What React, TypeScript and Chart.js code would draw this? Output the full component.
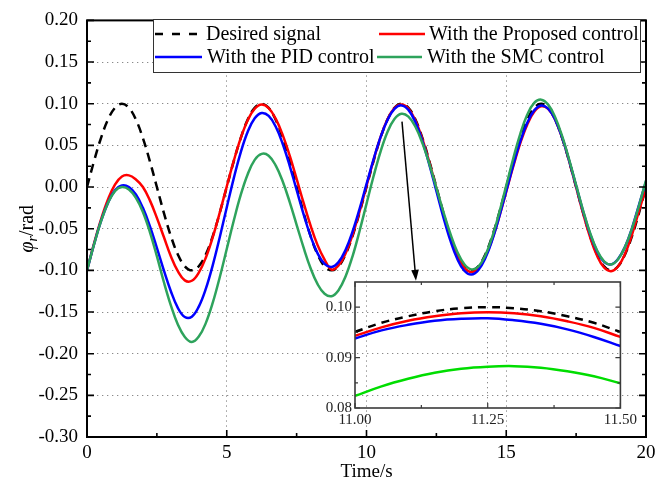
import React, { useEffect, useRef } from 'react';
import { Chart, registerables } from 'chart.js';

Chart.register(...registerables);

// ---------------- data ----------------
const TIME = [
  0, 0.25, 0.5, 0.75, 1, 1.25, 1.5, 1.75, 2, 2.25, 2.5, 2.75, 3, 3.25, 3.5, 3.75,
  4, 4.25, 4.5, 4.75, 5, 5.25, 5.5, 5.75, 6, 6.25, 6.5, 6.75, 7, 7.25, 7.5, 7.75,
  8, 8.25, 8.5, 8.75, 9, 9.25, 9.5, 9.75, 10, 10.25, 10.5, 10.75, 11, 11.25, 11.5, 11.75,
  12, 12.25, 12.5, 12.75, 13, 13.25, 13.5, 13.75, 14, 14.25, 14.5, 14.75, 15, 15.25, 15.5, 15.75,
  16, 16.25, 16.5, 16.75, 17, 17.25, 17.5, 17.75, 18, 18.25, 18.5, 18.75, 19, 19.25, 19.5, 19.75, 20,
];

const DESIRED = [
  0, 0.0309, 0.0588, 0.0809, 0.0951, 0.1, 0.0951, 0.0809, 0.0588, 0.0309,
  0, -0.0309, -0.0588, -0.0809, -0.0951, -0.1, -0.0951, -0.0809, -0.0588, -0.0309,
  0, 0.0309, 0.0588, 0.0809, 0.0951, 0.1, 0.0951, 0.0809, 0.0588, 0.0309,
  0, -0.0309, -0.0588, -0.0809, -0.0951, -0.1, -0.0951, -0.0809, -0.0588, -0.0309,
  0, 0.0309, 0.0588, 0.0809, 0.0951, 0.1, 0.0951, 0.0809, 0.0588, 0.0309,
  0, -0.0309, -0.0588, -0.0809, -0.0951, -0.1, -0.0951, -0.0809, -0.0588, -0.0309,
  0, 0.0309, 0.0588, 0.0809, 0.0951, 0.1, 0.0951, 0.0809, 0.0588, 0.0309,
  0, -0.0309, -0.0588, -0.0809, -0.0951, -0.1, -0.0951, -0.0809, -0.0588, -0.0309,
  0,
];

const PROPOSED = [
  -0.1, -0.068, -0.039, -0.015, 0.003, 0.0127, 0.014, 0.009, 0.0, -0.016,
  -0.037, -0.06, -0.083, -0.101, -0.112, -0.1125, -0.1028, -0.0848, -0.06, -0.0307,
  0.0007, 0.0313, 0.0587, 0.0802, 0.094, 0.099, 0.0946, 0.0821, 0.0626, 0.0379,
  0.0098, -0.0191, -0.0463, -0.0697, -0.087, -0.099, -0.0941, -0.0798, -0.0576, -0.0296,
  0.0013, 0.032, 0.0596, 0.0813, 0.0948, 0.099, 0.0941, 0.0798, 0.0576, 0.0296,
  -0.0015, -0.0326, -0.0606, -0.0828, -0.0971, -0.102, -0.0973, -0.0837, -0.0625, -0.0356,
  -0.0056, 0.0247, 0.0524, 0.0749, 0.0903, 0.0968, 0.0937, 0.0807, 0.0592, 0.0312,
  -0.0001, -0.0317, -0.0601, -0.0825, -0.0966, -0.101, -0.0954, -0.0802, -0.0571, -0.0285,
  -0.001,
];

const PID = [
  -0.1, -0.069, -0.041, -0.019, -0.004, 0.002, 0.0, -0.009, -0.025, -0.047,
  -0.073, -0.1, -0.125, -0.145, -0.156, -0.1556, -0.1435, -0.1223, -0.0937, -0.0602,
  -0.0245, 0.0104, 0.0416, 0.0663, 0.0825, 0.0889, 0.0853, 0.0726, 0.052, 0.0258,
  -0.0035, -0.0328, -0.059, -0.0796, -0.0923, -0.096, -0.0901, -0.0756, -0.0536, -0.0264,
  0.0034, 0.033, 0.0596, 0.0805, 0.0937, 0.098, 0.0926, 0.0779, 0.0551, 0.0267,
  -0.0048, -0.0361, -0.0641, -0.0864, -0.1005, -0.105, -0.0998, -0.0855, -0.0634, -0.0356,
  -0.0048, 0.0262, 0.0544, 0.077, 0.092, 0.0979, 0.0941, 0.0808, 0.0592, 0.0318,
  0.0013, -0.0291, -0.0562, -0.0772, -0.0898, -0.0928, -0.0863, -0.0718, -0.0492, -0.0213,
  0.0065,
];

const SMC = [
  -0.1, -0.0691, -0.0412, -0.0191, -0.0049, 0.0, -0.003, -0.013, -0.03, -0.054,
  -0.083, -0.114, -0.142, -0.165, -0.18, -0.186, -0.1795, -0.1633, -0.1388, -0.1082,
  -0.0744, -0.0405, -0.0095, 0.0154, 0.0326, 0.0398, 0.0376, 0.026, 0.0069, -0.0177,
  -0.0453, -0.0728, -0.0975, -0.1166, -0.1281, -0.131, -0.1238, -0.1073, -0.0831, -0.053,
  -0.0202, 0.0126, 0.0423, 0.0661, 0.0817, 0.0879, 0.0845, 0.0724, 0.0528, 0.0276,
  -0.0009, -0.0297, -0.0561, -0.078, -0.0926, -0.0988, -0.0956, -0.0821, -0.0597, -0.0308,
  0.0017, 0.0343, 0.0636, 0.0867, 0.1009, 0.1049, 0.0989, 0.0838, 0.0611, 0.033,
  0.0023, -0.0282, -0.0552, -0.0762, -0.0892, -0.093, -0.0867, -0.0718, -0.0496, -0.0222,
  0.0079,
];

// zoomed window (inset)
const ZOOM_TIME = [11.0, 11.05, 11.1, 11.15, 11.2, 11.25, 11.3, 11.35, 11.4, 11.45, 11.5];
const ZOOM_DESIRED = [0.0951, 0.0969, 0.0982, 0.0992, 0.0998, 0.1, 0.0998, 0.0992, 0.0982, 0.0969, 0.0951];
const ZOOM_PROPOSED = [0.0943, 0.096, 0.0973, 0.0982, 0.0988, 0.099, 0.0988, 0.0982, 0.0972, 0.0959, 0.0941];
const ZOOM_PID = [0.0938, 0.0954, 0.0965, 0.0973, 0.0977, 0.0978, 0.0974, 0.0967, 0.0956, 0.0941, 0.0923];
const ZOOM_SMC = [0.0824, 0.0843, 0.0858, 0.087, 0.0878, 0.0882, 0.0883, 0.088, 0.0873, 0.0863, 0.0849];

const LABELS = ['Desired signal', 'With the Proposed control', 'With the PID control', 'With the SMC control'];

// arrow from main curve to inset (data coordinates)
const ARROW_FROM = { x: 11.27, y: 0.0785 };
const ARROW_TO = { x: 11.77, y: -0.1125 };

// ---------------- styles ----------------
const SERIF = '"Liberation Serif", "Times New Roman", serif';
const C_RED = '#ff0000';
const C_BLUE = '#0000ff';
const C_GREEN = '#2ea35c';
const C_GREEN_INSET = '#00dd00';
const GRID = '#8a8a8a';
const GRID_DASH = [1.3, 3.7];

const pts = (xs: number[], ys: number[]) => xs.map((x, i) => ({ x, y: ys[i] }));
const near = (a: number, b: number) => Math.abs(a - b) < 1e-9;

const mainDecor = {
  id: 'mainDecor',
  afterDatasetsDraw(chart: any) {
    const { ctx, chartArea: a, scales } = chart;
    const xs = scales.x;
    const ys = scales.y;
    ctx.save();

    // arrow
    const x1 = xs.getPixelForValue(ARROW_FROM.x);
    const y1 = ys.getPixelForValue(ARROW_FROM.y);
    const x2 = xs.getPixelForValue(ARROW_TO.x);
    const y2 = ys.getPixelForValue(ARROW_TO.y);
    const ang = Math.atan2(y2 - y1, x2 - x1);
    const hl = 11;
    const hw = 3.8;
    ctx.strokeStyle = '#000';
    ctx.fillStyle = '#000';
    ctx.lineWidth = 1.5;
    ctx.beginPath();
    ctx.moveTo(x1, y1);
    ctx.lineTo(x2 - Math.cos(ang) * hl * 0.8, y2 - Math.sin(ang) * hl * 0.8);
    ctx.stroke();
    ctx.beginPath();
    ctx.moveTo(x2, y2);
    ctx.lineTo(x2 - Math.cos(ang) * hl + Math.sin(ang) * hw, y2 - Math.sin(ang) * hl - Math.cos(ang) * hw);
    ctx.lineTo(x2 - Math.cos(ang) * hl - Math.sin(ang) * hw, y2 - Math.sin(ang) * hl + Math.cos(ang) * hw);
    ctx.closePath();
    ctx.fill();

    // frame
    ctx.lineWidth = 2;
    ctx.strokeStyle = '#000';
    ctx.strokeRect(a.left, a.top, a.right - a.left, a.bottom - a.top);

    // inward ticks
    ctx.lineWidth = 1.6;
    const xt = xs.ticks.map((t: any) => t.value);
    const yt = ys.ticks.map((t: any) => t.value);
    const drawX = (v: number, len: number) => {
      const p = xs.getPixelForValue(v);
      ctx.beginPath();
      ctx.moveTo(p, a.bottom);
      ctx.lineTo(p, a.bottom - len);
      ctx.moveTo(p, a.top);
      ctx.lineTo(p, a.top + len);
      ctx.stroke();
    };
    const drawY = (v: number, len: number) => {
      const p = ys.getPixelForValue(v);
      ctx.beginPath();
      ctx.moveTo(a.left, p);
      ctx.lineTo(a.left + len, p);
      ctx.moveTo(a.right, p);
      ctx.lineTo(a.right - len, p);
      ctx.stroke();
    };
    xt.forEach((v: number, i: number) => {
      drawX(v, 7);
      if (i < xt.length - 1) drawX((v + xt[i + 1]) / 2, 4);
    });
    yt.forEach((v: number, i: number) => {
      drawY(v, 7);
      if (i < yt.length - 1) drawY((v + yt[i + 1]) / 2, 4);
    });

    // legend
    const lx = 153, ly = 19, lw = 487, lh = 53;
    ctx.fillStyle = '#fff';
    ctx.fillRect(lx, ly, lw, lh);
    ctx.strokeStyle = '#333';
    ctx.lineWidth = 1;
    ctx.strokeRect(lx + 0.5, ly + 0.5, lw, lh);
    const rows = [34, 57];
    const entries = [
      { x0: 155, x1: 202, tx: 206, y: rows[0], color: '#000', dash: [8, 9], label: LABELS[0] },
      { x0: 379, x1: 425, tx: 429, y: rows[0], color: C_RED, dash: [], label: LABELS[1] },
      { x0: 155, x1: 202, tx: 207, y: rows[1], color: C_BLUE, dash: [], label: LABELS[2] },
      { x0: 377, x1: 422, tx: 427, y: rows[1], color: C_GREEN, dash: [], label: LABELS[3] },
    ];
    ctx.font = `20px ${SERIF}`;
    ctx.textBaseline = 'middle';
    ctx.textAlign = 'left';
    entries.forEach((e) => {
      ctx.strokeStyle = e.color;
      ctx.lineWidth = 2.5;
      ctx.setLineDash(e.dash);
      ctx.beginPath();
      ctx.moveTo(e.x0, e.y);
      ctx.lineTo(e.x1, e.y);
      ctx.stroke();
      ctx.setLineDash([]);
      ctx.fillStyle = '#000';
      ctx.fillText(e.label, e.tx, e.y + 1);
    });

    // y axis title: φ_r/rad
    ctx.save();
    ctx.translate(26, (a.top + a.bottom) / 2);
    ctx.rotate(-Math.PI / 2);
    ctx.textBaseline = 'alphabetic';
    const f1 = `italic 20px ${SERIF}`;
    const f2 = `italic 14px ${SERIF}`;
    const f3 = `20px ${SERIF}`;
    ctx.font = f1; const w1 = ctx.measureText('φ').width;
    ctx.font = f2; const w2 = ctx.measureText('r').width;
    ctx.font = f3; const w3 = ctx.measureText('/rad').width;
    let cx = -(w1 + w2 + w3) / 2;
    const base = 7;
    ctx.fillStyle = '#000';
    ctx.font = f1; ctx.fillText('φ', cx, base); cx += w1;
    ctx.font = f2; ctx.fillText('r', cx, base + 4); cx += w2;
    ctx.font = f3; ctx.fillText('/rad', cx, base);
    ctx.restore();

    ctx.restore();
  },
};

const insetDecor = {
  id: 'insetDecor',
  afterDatasetsDraw(chart: any) {
    const { ctx, chartArea: a, scales } = chart;
    const xs = scales.x;
    const ys = scales.y;
    ctx.save();
    ctx.strokeStyle = '#3a3a3a';
    ctx.lineWidth = 1.6;
    ctx.strokeRect(a.left, a.top, a.right - a.left, a.bottom - a.top);
    ctx.lineWidth = 1.2;
    const xt = xs.ticks.map((t: any) => t.value);
    const yt = ys.ticks.map((t: any) => t.value);
    const dx = (v: number, len: number) => {
      const p = xs.getPixelForValue(v);
      ctx.beginPath();
      ctx.moveTo(p, a.bottom); ctx.lineTo(p, a.bottom - len);
      ctx.moveTo(p, a.top); ctx.lineTo(p, a.top + len);
      ctx.stroke();
    };
    const dy = (v: number, len: number) => {
      const p = ys.getPixelForValue(v);
      ctx.beginPath();
      ctx.moveTo(a.left, p); ctx.lineTo(a.left + len, p);
      ctx.moveTo(a.right, p); ctx.lineTo(a.right - len, p);
      ctx.stroke();
    };
    xt.forEach((v: number, i: number) => {
      dx(v, 5);
      if (i < xt.length - 1) dx((v + xt[i + 1]) / 2, 3);
    });
    yt.forEach((v: number, i: number) => {
      dy(v, 5);
      if (i < yt.length - 1) dy((v + yt[i + 1]) / 2, 3);
    });
    ctx.restore();
  },
};

export default function App() {
  const mainRef = useRef<HTMLCanvasElement>(null);
  const insetRef = useRef<HTMLCanvasElement>(null);

  useEffect(() => {
    const tickFont = { family: SERIF, size: 19 };
    const line = (label: string, data: any, color: string, order: number, dash: number[] = []) => ({
      label,
      data,
      borderColor: color,
      backgroundColor: color,
      borderWidth: 2.5,
      borderDash: dash,
      pointRadius: 0,
      fill: false,
      tension: 0.4,
      order,
    });

    const main = new Chart(mainRef.current as HTMLCanvasElement, {
      type: 'line',
      data: {
        datasets: [
          line(LABELS[0], pts(TIME, DESIRED), '#000', 3, [9, 6]),
          line(LABELS[1], pts(TIME, PROPOSED), C_RED, 2),
          line(LABELS[2], pts(TIME, PID), C_BLUE, 1),
          line(LABELS[3], pts(TIME, SMC), C_GREEN, 0),
        ],
      },
      options: {
        responsive: false,
        animation: false,
        events: [],
        layout: { padding: { top: 17, right: 24, left: 0, bottom: 0 } },
        plugins: { legend: { display: false }, tooltip: { enabled: false } },
        scales: {
          x: {
            type: 'linear',
            min: 0,
            max: 20,
            afterFit: (s: any) => { s.height = 50; },
            ticks: { stepSize: 5, font: tickFont, color: '#000', padding: 5, maxRotation: 0, callback: (v: any) => String(v) },
            grid: {
              drawTicks: false,
              lineWidth: 1,
              color: (c: any) => (c.tick && (near(c.tick.value, 0) || near(c.tick.value, 20)) ? 'rgba(0,0,0,0)' : GRID),
            },
            border: { display: false, dash: GRID_DASH },
            title: { display: true, text: 'Time/s', color: '#000', font: { family: SERIF, size: 19 }, padding: { top: 0, bottom: 4 } },
          },
          y: {
            type: 'linear',
            min: -0.3,
            max: 0.2,
            afterFit: (s: any) => { s.width = 87; },
            ticks: {
              stepSize: 0.05,
              font: tickFont,
              color: '#000',
              padding: 9,
              callback: (v: any) => (Math.abs(v) < 1e-9 ? '0.00' : Number(v).toFixed(2)),
            },
            grid: {
              drawTicks: false,
              lineWidth: 1,
              color: (c: any) => (c.tick && (near(c.tick.value, 0.2) || near(c.tick.value, -0.3)) ? 'rgba(0,0,0,0)' : GRID),
            },
            border: { display: false, dash: GRID_DASH },
          },
        },
      } as any,
      plugins: [mainDecor],
    });

    const insetFont = { family: SERIF, size: 15 };
    const inset = new Chart(insetRef.current as HTMLCanvasElement, {
      type: 'line',
      data: {
        datasets: [
          line(LABELS[0], pts(ZOOM_TIME, ZOOM_DESIRED), '#000', 3, [8, 6]),
          line(LABELS[1], pts(ZOOM_TIME, ZOOM_PROPOSED), C_RED, 2),
          line(LABELS[2], pts(ZOOM_TIME, ZOOM_PID), C_BLUE, 1),
          line(LABELS[3], pts(ZOOM_TIME, ZOOM_SMC), C_GREEN_INSET, 0),
        ],
      },
      options: {
        responsive: false,
        animation: false,
        events: [],
        layout: { padding: { top: 10, right: 17, left: 0, bottom: 0 } },
        plugins: { legend: { display: false }, tooltip: { enabled: false } },
        scales: {
          x: {
            type: 'linear',
            min: 11,
            max: 11.5,
            afterFit: (s: any) => { s.height = 27; },
            ticks: { stepSize: 0.25, font: insetFont, color: '#222', padding: 3, maxRotation: 0, callback: (v: any) => Number(v).toFixed(2) },
            grid: {
              drawTicks: false,
              lineWidth: 1,
              color: (c: any) => (c.tick && (near(c.tick.value, 11) || near(c.tick.value, 11.5)) ? 'rgba(0,0,0,0)' : GRID),
            },
            border: { display: false, dash: GRID_DASH },
          },
          y: {
            type: 'linear',
            min: 0.08,
            max: 0.105,
            afterFit: (s: any) => { s.width = 55; },
            ticks: { stepSize: 0.01, includeBounds: false, font: insetFont, color: '#222', padding: 3, callback: (v: any) => Number(v).toFixed(2) },
            grid: { display: false, drawTicks: false },
            border: { display: false },
          },
        },
      } as any,
      plugins: [insetDecor],
    });

    return () => {
      main.destroy();
      inset.destroy();
    };
  }, []);

  return (
    <div style={{ position: 'absolute', left: 0, top: 0, width: 670, height: 487, background: '#fff' }}>
      <canvas ref={mainRef} width={670} height={487} style={{ position: 'absolute', left: 0, top: 0, width: 670, height: 487 }} />
      <canvas ref={insetRef} width={340} height={165} style={{ position: 'absolute', left: 300, top: 270, width: 340, height: 165 }} />
    </div>
  );
}
